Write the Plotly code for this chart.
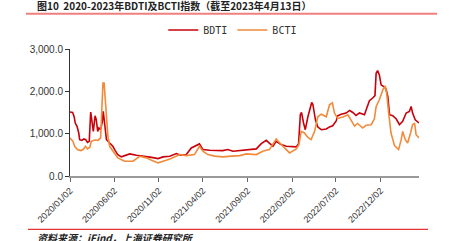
import plotly.graph_objects as go

bdti_dates = ["2020-01-02","2020-01-11","2020-01-16","2020-01-20","2020-01-26","2020-02-01","2020-02-04","2020-02-12","2020-02-18","2020-02-25",
"2020-03-02","2020-03-08","2020-03-13","2020-03-17","2020-03-22","2020-03-28","2020-04-01","2020-04-06","2020-04-10","2020-04-16",
"2020-04-22","2020-04-25","2020-04-30","2020-05-06","2020-05-17","2020-05-28","2020-06-05","2020-06-14","2020-06-26","2020-07-11",
"2020-07-25","2020-08-17","2020-09-20","2020-10-08","2020-10-30","2020-11-16","2020-12-09","2021-01-01","2021-01-15","2021-02-04",
"2021-02-21","2021-03-10","2021-03-21","2021-04-02","2021-04-25","2021-06-09","2021-06-26","2021-07-14","2021-08-29","2021-10-02",
"2021-10-19","2021-11-05","2021-11-28","2021-12-09","2021-12-26","2022-01-13","2022-02-16","2022-02-24","2022-03-02","2022-03-06",
"2022-03-13","2022-03-19","2022-03-28","2022-04-06","2022-04-10","2022-04-14","2022-04-23","2022-05-01","2022-05-13","2022-05-30",
"2022-06-10","2022-06-21","2022-07-03","2022-07-08","2022-07-20","2022-08-06","2022-08-18","2022-08-29","2022-09-09","2022-09-21",
"2022-10-08","2022-10-16","2022-10-25","2022-11-08","2022-11-13","2022-11-17","2022-11-22","2022-11-28","2022-12-04","2022-12-13",
"2022-12-21","2022-12-27","2023-01-02","2023-01-13","2023-01-25","2023-02-05","2023-02-16","2023-02-28","2023-03-11","2023-03-17",
"2023-03-22","2023-03-31","2023-04-13"]
bdti_values = [1511,1501,1407,1252,1172,1017,859,842,875,859,
795,819,1511,1330,1054,1424,1330,1054,1134,1094,
1290,1530,1200,859,781,701,600,506,452,490,
522,490,466,440,412,452,466,529,490,506,
663,718,758,624,607,600,624,584,624,640,
765,842,701,819,741,701,687,760,1450,1501,
1252,1094,1400,1650,1737,1690,1320,1157,1094,1110,
1160,1188,1300,1420,1460,1487,1548,1501,1430,1490,
1447,1605,1780,1860,1900,2428,2490,2388,2153,2113,
2050,1878,1447,1424,1346,1212,1290,1487,1526,1642,
1487,1329,1252]

bcti_dates = ["2020-01-02","2020-01-12","2020-01-18","2020-01-27","2020-02-08","2020-02-16","2020-02-24","2020-03-02","2020-03-10","2020-03-15",
"2020-03-27","2020-04-07","2020-04-16","2020-04-21","2020-04-24","2020-04-28","2020-05-02","2020-05-06","2020-05-11","2020-05-17",
"2020-05-28","2020-06-14","2020-07-07","2020-08-05","2020-08-28","2020-09-20","2020-10-08","2020-10-30","2020-11-27","2020-12-14",
"2021-01-12","2021-02-04","2021-03-04","2021-03-21","2021-04-02","2021-04-19","2021-05-12","2021-06-09","2021-07-09","2021-08-06",
"2021-08-29","2021-10-02","2021-10-24","2021-11-16","2021-12-09","2021-12-26","2022-01-07","2022-01-24","2022-02-16","2022-02-25",
"2022-03-05","2022-03-16","2022-03-28","2022-04-08","2022-04-20","2022-05-01","2022-05-13","2022-05-30","2022-06-10","2022-06-20",
"2022-06-27","2022-07-08","2022-07-26","2022-08-12","2022-08-23","2022-09-04","2022-09-14","2022-09-24","2022-10-02","2022-10-14",
"2022-10-31","2022-11-11","2022-11-17","2022-11-28","2022-12-10","2022-12-18","2022-12-23","2022-12-30","2023-01-07","2023-01-19",
"2023-02-02","2023-02-11","2023-02-16","2023-02-25","2023-03-05","2023-03-15","2023-03-22","2023-03-29","2023-04-03","2023-04-13"]
bcti_values = [898,819,701,624,600,625,701,640,680,819,
850,842,900,1800,2193,2193,1722,1330,937,701,
584,428,349,349,466,428,370,310,372,412,
506,482,506,701,584,506,470,452,470,482,
522,506,584,624,875,741,663,546,640,741,
1054,1016,910,860,1054,1400,1460,1400,1682,1730,
1487,1360,1393,1447,1329,1180,1240,1180,1134,1200,
1212,1350,1642,1800,2035,2130,1958,1487,1016,718,
624,859,1054,859,781,1016,1212,1252,976,900]

tick_vals = ["2020-01-02","2020-06-02","2020-11-02","2021-04-02","2021-09-02","2022-02-02","2022-07-02","2022-12-02"]
tick_text = ["2020/01/02","2020/06/02","2020/11/02","2021/04/02","2021/09/02","2022/02/02","2022/07/02","2022/12/02"]
y_ticks = [0, 1000, 2000, 3000]

title_text = "图10  2020-2023年BDTI及BCTI指数（截至2023年4月13日）"
source_text = "资料来源：iFind，上海证券研究所"

fig = go.Figure()
fig.add_trace(go.Scatter(x=bdti_dates, y=bdti_values, name="BDTI", mode="lines",
                         line=dict(color="#c8000a", width=1.6)))
fig.add_trace(go.Scatter(x=bcti_dates, y=bcti_values, name="BCTI", mode="lines",
                         line=dict(color="#f28a3a", width=1.6)))

fig.update_layout(
    width=452, height=241,
    margin=dict(l=70, r=33, t=49, b=65, autoexpand=False),
    paper_bgcolor="white", plot_bgcolor="white",
    font=dict(family="Liberation Sans, Arial, sans-serif", size=10, color="#333"),
    showlegend=True,
    legend=dict(orientation="h", xref="container", yref="container",
                x=0.515, xanchor="center", y=1 - 30/241, yanchor="middle",
                font=dict(family="DejaVu Sans Mono, monospace", size=10, color="#333"),
                itemwidth=30, bgcolor="rgba(0,0,0,0)"),
    xaxis=dict(type="date", range=["2020-01-02", "2023-04-13"],
               tickvals=tick_vals, ticktext=tick_text, tickangle=-45,
               ticks="outside", ticklen=4, tickcolor="#666",
               showline=True, linecolor="#999", linewidth=2,
               showgrid=False, zeroline=False,
               tickfont=dict(size=9, color="#333")),
    yaxis=dict(range=[0, 3000], tickvals=y_ticks, tickformat=",.1f",
               ticks="outside", ticklen=4, tickcolor="#333",
               showline=True, linecolor="#333", linewidth=1,
               showgrid=False, zeroline=False,
               tickfont=dict(size=10, color="#333")),
    shapes=[
        dict(type="line", xref="paper", yref="paper", x0=-44/349, x1=367/349,
             y0=1 + (49-13.5)/127.5, y1=1 + (49-13.5)/127.5,
             line=dict(color="#f08080", width=2)),
        dict(type="line", xref="paper", yref="paper", x0=-42/349, x1=358/349,
             y0=-(230-176.5)/127.5, y1=-(230-176.5)/127.5,
             line=dict(color="#e00000", width=1)),
    ],
    annotations=[
        dict(text="<b>" + title_text + "</b>", xref="paper", yref="paper",
             x=-35/349, y=1 + (49-5)/127.5, xanchor="left", yanchor="middle",
             showarrow=False, font=dict(family="Noto Sans CJK SC", size=10, color="#222")),
        dict(text="<b><i>" + source_text + "</i></b>", xref="paper", yref="paper",
             x=-35/349, y=-(238-176.5)/127.5, xanchor="left", yanchor="middle",
             showarrow=False, font=dict(family="Noto Sans CJK SC", size=10, color="#222")),
    ],
)

fig.write_html("out.html")
